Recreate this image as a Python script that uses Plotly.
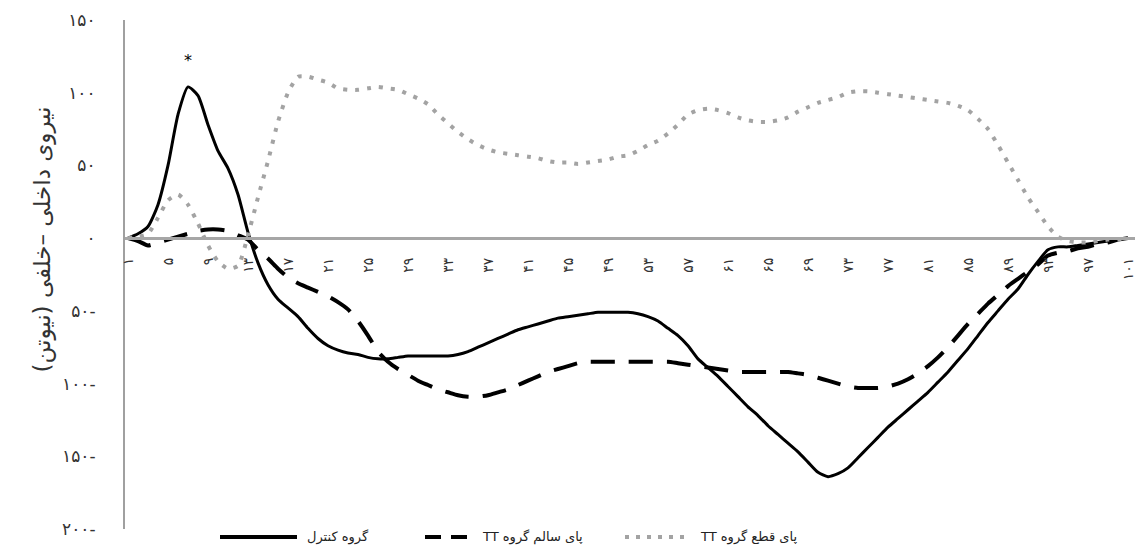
import plotly.graph_objects as go

# ---------------- data ----------------
frames = list(range(1, 102))

control = [
    0, 3, 8, 23, 50, 85, 104, 98, 78, 60,
    48, 30, 4, -17, -32, -42, -48, -54, -62, -69,
    -74, -77, -79, -80, -82, -83, -83, -82, -81, -81,
    -81, -81, -81, -80, -78, -75, -72, -69, -66, -63,
    -61, -59, -57, -55, -54, -53, -52, -51, -51, -51,
    -51, -52, -54, -57, -62, -67, -74, -83, -89, -95,
    -102, -109, -116, -122, -129, -135, -141, -147, -154, -161,
    -164, -162, -158, -151, -144, -137, -130, -124, -118, -112,
    -106, -99, -92, -84, -76, -67, -58, -50, -42, -35,
    -25, -16, -8, -6, -6, -5, -4, -3, -2, -1,
    0]

tt_healthy = [
    0, -2, -5, -3, -1, 1, 3, 5, 6, 6,
    5, 2, -1, -8, -14, -21, -27, -31, -34, -37,
    -40, -44, -49, -57, -67, -78, -85, -90, -94, -98,
    -101, -104, -106, -108, -109, -109, -108, -106, -104, -101,
    -98, -95, -92, -90, -88, -86, -85, -85, -85, -85,
    -85, -85, -85, -85, -85, -86, -87, -88, -89, -90,
    -91, -92, -92, -92, -92, -92, -92, -93, -94, -96,
    -98, -100, -102, -103, -103, -103, -102, -100, -97, -93,
    -88, -82, -75, -67, -59, -52, -45, -39, -33, -28,
    -23, -18, -12, -10, -9, -7, -6, -4, -3, -1,
    0]

tt_amputated = [
    0, 1, 3, 14, 26, 30, 23, 10, -5, -16,
    -21, -19, 2, 28, 53, 80, 100, 111, 111, 109,
    107, 103, 102, 102, 103, 104, 103, 102, 99, 96,
    92, 85, 79, 73, 68, 64, 61, 59, 58, 57,
    56, 55, 53, 52, 52, 51, 52, 53, 54, 56,
    57, 60, 64, 67, 72, 78, 85, 88, 89, 88,
    86, 83, 81, 80, 80, 81, 83, 87, 90, 93,
    95, 97, 100, 101, 101, 100, 99, 98, 97, 96,
    95, 94, 93, 91, 88, 82, 75, 64, 52, 40,
    28, 18, 8, 1, -2, -3, -3, -2, -1, -1,
    0]

series_names = ["گروه کنترل", "پای سالم گروه TT", "پای قطع گروه TT"]
y_title = "نیروی داخلی –خلفی (نیوتن)"
x_tick_values = list(range(1, 102, 4))
y_tick_values = [150, 100, 50, 0, -50, -100, -150, -200]
peak_mark_frame = 7
peak_mark_value = 122

# ---------------- helpers ----------------
FA = str.maketrans("0123456789", "۰۱۲۳۴۵۶۷۸۹")


def fa(n):
    return str(abs(n)).translate(FA) + ("-" if n < 0 else "")


def rtl(s):
    return "\u2067" + s + "\u2069"


FONT = "DejaVu Sans"
W, H = 1140, 555
ML, MR, MT, MB = 125, 5, 20, 26
PW, PH = W - ML - MR, H - MT - MB


def px(x):
    return (x - ML) / PW


def py(y):
    return (H - MB - y) / PH


fig = go.Figure()
fig.add_trace(go.Scatter(
    x=frames, y=control, mode="lines", name=series_names[0],
    line=dict(color="black", width=3, shape="spline", smoothing=0.6),
    showlegend=False))
fig.add_trace(go.Scatter(
    x=frames, y=tt_healthy, mode="lines", name=series_names[1],
    line=dict(color="black", width=4, dash="24px,14px", shape="spline", smoothing=0.6),
    showlegend=False))
fig.add_trace(go.Scatter(
    x=frames, y=tt_amputated, mode="lines", name=series_names[2],
    line=dict(color="#a3a3a3", width=4, dash="4px,8px", shape="spline", smoothing=0.6),
    showlegend=False))

# asterisk over the control peak
fig.add_annotation(x=peak_mark_frame, y=peak_mark_value, text="*", showarrow=False,
                   font=dict(family=FONT, size=16, color="black"))

# y-axis title
fig.add_annotation(xref="paper", yref="paper", x=px(26), y=py(240), text=rtl(y_title),
                   textangle=-90, showarrow=False,
                   font=dict(family=FONT, size=23, color="#333"))

# custom legend (long symbols like the reference)
leg_y = py(537)
legend_items = [
    (220, 297, dict(color="black", width=4), 305),
    (425, 470, dict(color="black", width=4, dash="16px,10px"), 480),
    (625, 690, dict(color="#a3a3a3", width=4, dash="4px,7px"), 698),
]
for (x0, x1, ln, tx), name in zip(legend_items, series_names):
    fig.add_shape(type="line", xref="paper", yref="paper", x0=px(x0), x1=px(x1),
                  y0=leg_y, y1=leg_y, line=ln)
    fig.add_annotation(xref="paper", yref="paper", x=px(tx), y=leg_y, text=rtl(name),
                       xanchor="left", yanchor="middle", showarrow=False,
                       font=dict(family=FONT, size=13, color="#222"))

fig.update_layout(
    width=W, height=H, autosize=False,
    margin=dict(l=ML, r=MR, t=MT, b=MB, pad=0),
    paper_bgcolor="white", plot_bgcolor="white",
    showlegend=False,
    xaxis=dict(range=[0.7, 101.7], tickmode="array", tickvals=x_tick_values,
               ticktext=[fa(v) for v in x_tick_values], tickangle=-90,
               showline=True, linecolor="#a6a6a6", linewidth=3,
               showgrid=False, zeroline=False, ticks="",
               anchor="free", position=200 / 350,
               tickfont=dict(family=FONT, size=14, color="#333"),
               ticklabelstandoff=12),
    yaxis=dict(range=[-200, 150], tickmode="array", tickvals=y_tick_values,
               ticktext=[fa(v) for v in y_tick_values],
               showline=True, linecolor="#a0a0a0", linewidth=2,
               showgrid=False, zeroline=False, ticks="",
               tickfont=dict(family=FONT, size=17, color="#333"),
               ticklabelstandoff=24),
)

fig.write_html("out.html", config={"displayModeBar": False},
               post_script="document.body.style.margin='0';document.documentElement.style.overflow='hidden';")
